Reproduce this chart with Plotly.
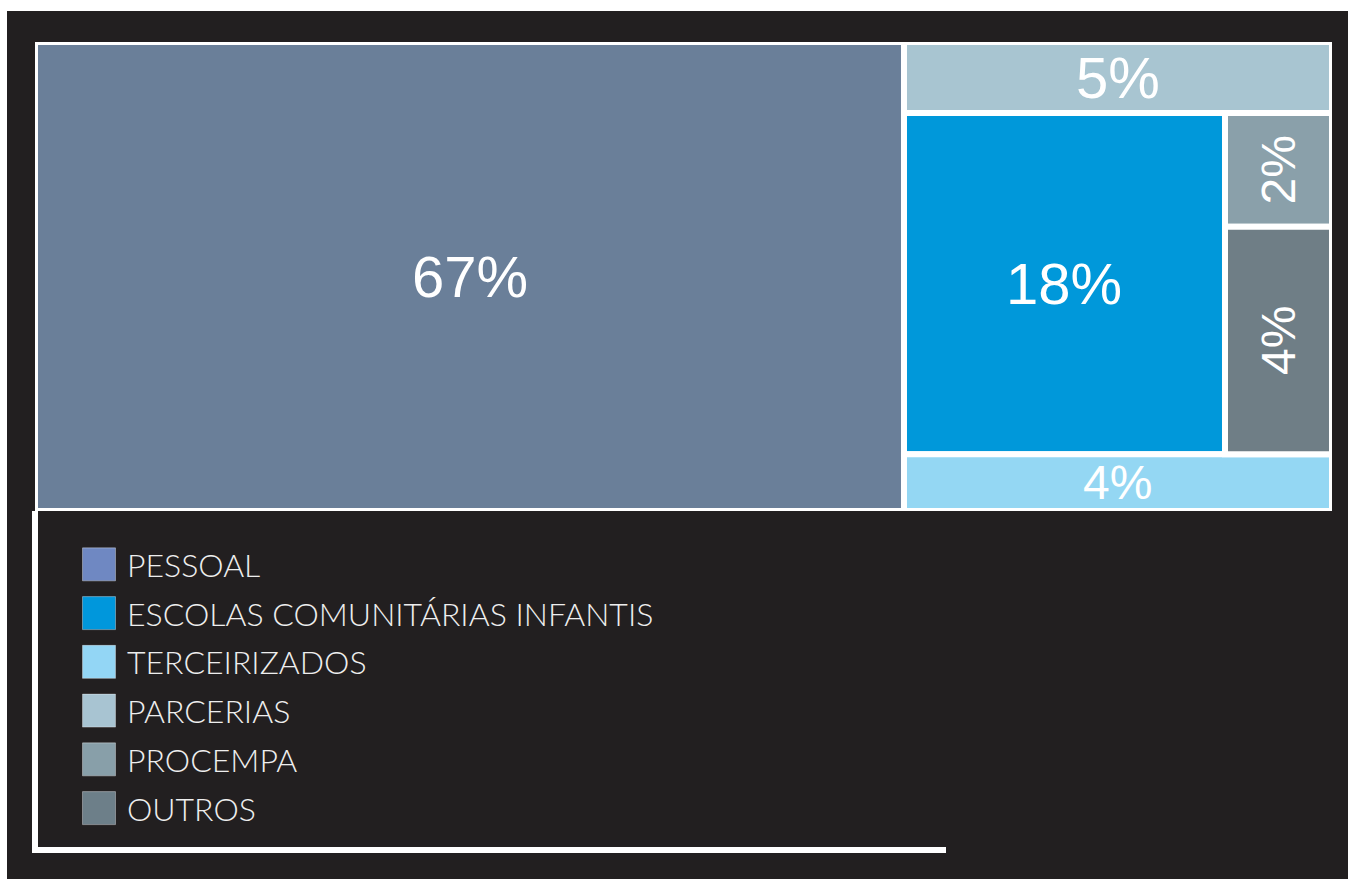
import plotly.graph_objects as go

# Budget shares (percent) by spending category
categories = ["PESSOAL", "ESCOLAS COMUNITÁRIAS INFANTIS", "TERCEIRIZADOS",
              "PARCERIAS", "PROCEMPA", "OUTROS"]
shares = [67, 18, 4, 5, 2, 4]

tile_colors = ["#6a7f99", "#0098da", "#94d7f3", "#a8c5d1", "#8aa0aa", "#6f7e86"]
legend_colors = ["#6f88c2", "#0097dc", "#93d6f5", "#a8c4d2", "#889fa9", "#6d7f89"]

# Nesting of the tiles; slices alternate between horizontal and vertical
tree = ["PESSOAL",
        ["PARCERIAS",
         ["ESCOLAS COMUNITÁRIAS INFANTIS", ["PROCEMPA", "OUTROS"]],
         "TERCEIRIZADOS"]]

value_of = dict(zip(categories, shares))


def total(node):
    if isinstance(node, str):
        return value_of[node]
    return sum(total(c) for c in node)


def slice_dice(node, x0, y0, x1, y1, depth, out):
    if isinstance(node, str):
        out[node] = (x0, y0, x1, y1)
        return
    t = total(node)
    pos = 0.0
    for child in node:
        f0, f1 = pos / t, (pos + total(child)) / t
        if depth % 2 == 0:
            slice_dice(child, x0 + (x1 - x0) * f0, y0, x0 + (x1 - x0) * f1, y1, depth + 1, out)
        else:
            slice_dice(child, x0, y0 + (y1 - y0) * f0, x1, y0 + (y1 - y0) * f1, depth + 1, out)
        pos += total(child)


rects = {}
slice_dice(tree, 0.0, 0.0, 1.0, 1.0, 0, rects)

W, H = 1348, 879
BG = "#221f20"
MAP_W, MAP_H = 1297, 469
fig = go.Figure()

shapes = [
    # dark panel
    dict(type="rect", xref="paper", yref="paper", x0=7 / W, x1=1, y0=0, y1=1 - 11 / H,
         fillcolor=BG, line=dict(width=0), layer="below"),
    # frame around the legend area
    dict(type="path", xref="paper", yref="paper",
         path=f"M {35 / W},{1 - 511 / H} L {35 / W},{1 - 850 / H} L {946 / W},{1 - 850 / H}",
         line=dict(color="white", width=6), layer="above"),
]

annotations = []
for name, share, color in zip(categories, shares, tile_colors):
    x0, y0, x1, y1 = rects[name]
    shapes.append(dict(type="rect", xref="x", yref="y", x0=x0, x1=x1, y0=y0, y1=y1,
                       fillcolor=color, line=dict(color="white", width=6), layer="above"))
    # narrow tiles get vertical labels
    w_px = (x1 - x0) * MAP_W
    vertical = w_px < 150
    small = share < 5
    annotations.append(dict(
        x=(x0 + x1) / 2, y=(y0 + y1) / 2, xref="x", yref="y",
        text=f"{share}%", showarrow=False, textangle=-90 if vertical else 0,
        font=dict(family="Liberation Sans, Arial, sans-serif", size=48 if small else 58,
                  color="white"),
        xanchor="center", yanchor="middle"))

# legend: swatches and labels
fig.add_trace(go.Scatter(
    x=[99] * len(categories), y=list(range(len(categories))),
    mode="markers", xaxis="x2", yaxis="y2",
    marker=dict(symbol="square", size=33, color=legend_colors,
                line=dict(color="rgba(255,255,255,0.35)", width=1)),
    hoverinfo="skip", showlegend=False))

for i, name in enumerate(categories):
    annotations.append(dict(
        x=125, y=i, xref="x2", yref="y2", text=name, showarrow=False,
        xanchor="left", yanchor="middle",
        font=dict(family="Lato, sans-serif", size=32, color="#eeeeee", weight=300)))

fig.update_layout(
    width=W, height=H,
    margin=dict(l=0, r=0, t=0, b=0),
    paper_bgcolor="white", plot_bgcolor="rgba(0,0,0,0)",
    showlegend=False,
    xaxis=dict(domain=[35 / W, 1332 / W], range=[0, 1], visible=False, fixedrange=True),
    yaxis=dict(domain=[1 - 511 / H, 1 - 42 / H], range=[1, 0], visible=False, fixedrange=True),
    xaxis2=dict(domain=[0, 1], range=[0, W], visible=False, fixedrange=True, anchor="y2"),
    yaxis2=dict(domain=[1 - 832.5 / H, 1 - 540 / H], range=[5.5, -0.5], visible=False,
                fixedrange=True, anchor="x2"),
    shapes=shapes,
    annotations=annotations,
)

fig.write_html("out.html")
